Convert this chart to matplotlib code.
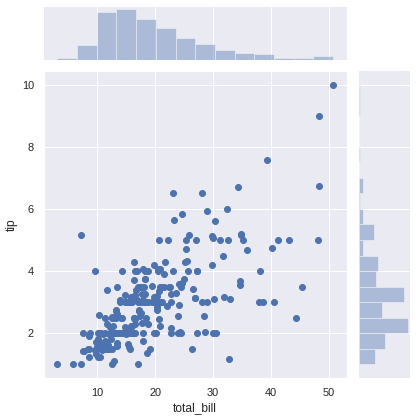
import matplotlib
matplotlib.use("Agg")
import matplotlib.pyplot as plt
import seaborn as sns

# tips dataset: total_bill / tip
total_bill = [
    16.99, 10.34, 21.01, 23.68, 24.59, 25.29, 8.77, 26.88, 15.04, 14.78,
    10.27, 35.26, 15.42, 18.43, 14.83, 21.58, 10.33, 16.29, 16.97, 20.65,
    17.92, 20.29, 15.77, 39.42, 19.82, 17.81, 13.37, 12.69, 21.70, 19.65,
    9.55, 18.35, 15.06, 20.69, 17.78, 24.06, 16.31, 16.93, 18.69, 31.27,
    16.04, 17.46, 13.94, 9.68, 30.40, 18.29, 22.23, 32.40, 28.55, 18.04,
    12.54, 10.29, 34.81, 9.94, 25.56, 19.49, 38.01, 26.41, 11.24, 48.27,
    20.29, 13.81, 11.02, 18.29, 17.59, 20.08, 16.45, 3.07, 20.23, 15.01,
    12.02, 17.07, 26.86, 25.28, 14.73, 10.51, 17.92, 27.20, 22.76, 17.29,
    19.44, 16.66, 10.07, 32.68, 15.98, 34.83, 13.03, 18.28, 24.71, 21.16,
    28.97, 22.49, 5.75, 16.32, 22.75, 40.17, 27.28, 12.03, 21.01, 12.46,
    11.35, 15.38, 44.30, 22.42, 20.92, 15.36, 20.49, 25.21, 18.24, 14.31,
    14.00, 7.25, 38.07, 23.95, 25.71, 17.31, 29.93, 10.65, 12.43, 24.08,
    11.69, 13.42, 14.26, 15.95, 12.48, 29.80, 8.52, 14.52, 11.38, 22.82,
    19.08, 20.27, 11.17, 12.26, 18.26, 8.51, 10.33, 14.15, 16.00, 13.16,
    17.47, 34.30, 41.19, 27.05, 16.43, 8.35, 18.64, 11.87, 9.78, 7.51,
    14.07, 13.13, 17.26, 24.55, 19.77, 29.85, 48.17, 25.00, 13.39, 16.49,
    21.50, 12.66, 16.21, 13.81, 17.51, 24.52, 20.76, 31.71, 10.59, 10.63,
    50.81, 15.81, 7.25, 31.85, 16.82, 32.90, 17.89, 14.48, 9.60, 34.63,
    34.65, 23.33, 45.35, 23.17, 40.55, 20.69, 20.90, 30.46, 18.15, 23.10,
    15.69, 19.81, 28.44, 15.48, 16.58, 7.56, 10.34, 43.11, 13.00, 13.51,
    18.71, 12.74, 13.00, 16.40, 20.53, 16.47, 26.59, 38.73, 24.27, 12.76,
    30.06, 25.89, 48.33, 13.27, 28.17, 12.90, 28.15, 11.59, 7.74, 30.14,
    12.16, 13.42, 8.58, 15.98, 13.42, 16.27, 10.09, 20.45, 13.28, 22.12,
    24.01, 15.69, 11.61, 10.77, 15.53, 10.07, 12.60, 32.83, 35.83, 29.03,
    27.18, 22.67, 17.82, 18.78,
]
tip = [
    1.01, 1.66, 3.50, 3.31, 3.61, 4.71, 2.00, 3.12, 1.96, 3.23,
    1.71, 5.00, 1.57, 3.00, 3.02, 3.92, 1.67, 3.71, 3.50, 3.35,
    4.08, 2.75, 2.23, 7.58, 3.18, 2.34, 2.00, 2.00, 4.30, 3.00,
    1.45, 2.50, 3.00, 2.45, 3.27, 3.60, 2.00, 3.07, 2.31, 5.00,
    2.24, 2.54, 3.06, 1.32, 5.60, 3.00, 5.00, 6.00, 2.05, 3.00,
    2.50, 2.60, 5.20, 1.56, 4.34, 3.51, 3.00, 1.50, 1.76, 6.73,
    3.21, 2.00, 1.98, 3.76, 2.64, 3.15, 2.47, 1.00, 2.01, 2.09,
    1.97, 3.00, 3.14, 5.00, 2.20, 1.25, 3.08, 4.00, 3.00, 2.71,
    3.00, 3.40, 1.83, 5.00, 2.03, 5.17, 2.00, 4.00, 5.85, 3.00,
    3.00, 3.50, 1.00, 4.30, 3.25, 4.73, 4.00, 1.50, 3.00, 1.50,
    2.50, 3.00, 2.50, 3.48, 4.08, 1.64, 4.06, 4.29, 3.76, 4.00,
    3.00, 1.00, 4.00, 2.55, 4.00, 3.50, 5.07, 1.50, 1.80, 2.92,
    2.31, 1.68, 2.50, 2.00, 2.52, 4.20, 1.48, 2.00, 2.00, 2.18,
    1.50, 2.83, 1.50, 2.00, 3.25, 1.25, 2.00, 2.00, 2.00, 2.75,
    3.50, 6.70, 5.00, 5.00, 2.30, 1.50, 1.36, 1.63, 1.73, 2.00,
    2.50, 2.00, 2.74, 2.00, 2.00, 5.14, 5.00, 3.75, 2.61, 2.00,
    3.50, 2.50, 2.00, 2.00, 3.00, 3.48, 2.24, 4.50, 1.61, 2.00,
    10.00, 3.16, 5.15, 3.18, 4.00, 3.11, 2.00, 2.00, 4.00, 3.55,
    3.68, 5.65, 3.50, 6.50, 3.00, 5.00, 3.50, 2.00, 3.50, 4.00,
    1.50, 4.19, 2.56, 2.02, 4.00, 1.44, 2.00, 5.00, 2.00, 2.00,
    4.00, 2.01, 2.00, 2.50, 4.00, 3.23, 3.41, 3.00, 2.03, 2.23,
    2.00, 5.16, 9.00, 2.50, 6.50, 1.10, 3.00, 1.50, 1.44, 3.09,
    2.20, 3.48, 1.92, 3.00, 1.58, 2.50, 2.00, 3.00, 2.72, 2.88,
    2.00, 3.00, 3.39, 1.47, 3.00, 1.25, 1.00, 1.17, 4.67, 5.92,
    2.00, 2.00, 1.75, 3.00,
]

sns.set_theme(style="darkgrid")
plt.rcParams["font.family"] = ["Liberation Sans", "DejaVu Sans"]
blue = "#4C72B0"

W, H = 417, 420
fig = plt.figure(figsize=(W / 72, H / 72), dpi=72)

def box(x0, y0, x1, y1):
    return [x0 / W, 1 - y1 / H, (x1 - x0) / W, (y1 - y0) / H]

ax = fig.add_axes(box(43.5, 70.7, 347, 378.3))
ax_top = fig.add_axes(box(43.5, 6.7, 347, 60), sharex=ax)
ax_right = fig.add_axes(box(359, 70.7, 410, 378.3), sharey=ax)

ax.scatter(total_bill, tip, s=36, color=blue, edgecolors="face")
ax.set_xlabel("total_bill", fontsize=12)
ax.set_ylabel("tip", fontsize=12)
ax.tick_params(labelsize=11)

ax_top.hist(total_bill, bins=14, color=blue, alpha=0.4,
            edgecolor="white", linewidth=1)
ax_right.hist(tip, bins=18, color=blue, alpha=0.4,
              edgecolor="white", linewidth=1, orientation="horizontal")

ax_top.yaxis.grid(False)
ax_right.xaxis.grid(False)
for a in (ax_top, ax_right):
    a.tick_params(labelbottom=False, labelleft=False)
    for s in a.spines.values():
        s.set_visible(False)

ax.set_xlim(0.68, 53.2)
ax.set_ylim(0.55, 10.45)

fig.savefig("out.png", dpi=72)
